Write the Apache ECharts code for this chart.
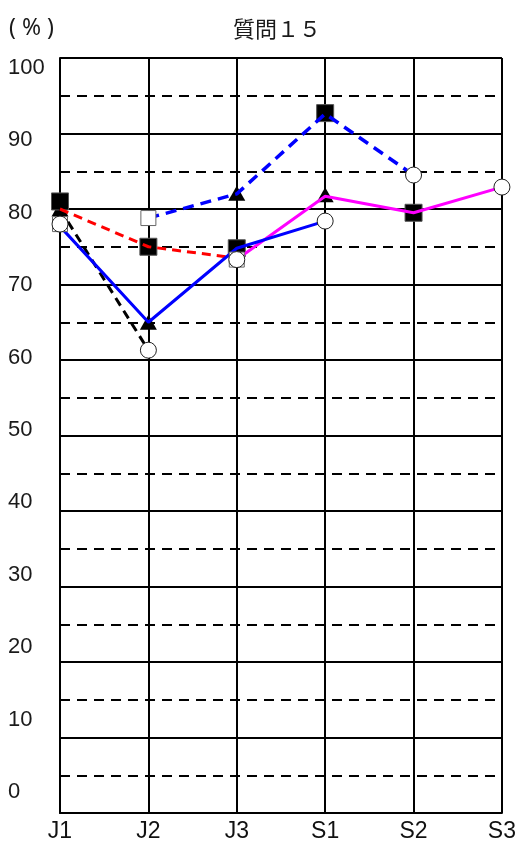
<!DOCTYPE html>
<html>
<head>
<meta charset="utf-8">
<script src="https://cdn.jsdelivr.net/npm/echarts@6/dist/echarts.min.js"></script>
<style>
html,body{margin:0;padding:0;background:#fff;}
#chart{width:519px;height:855px;}
</style>
</head>
<body>
<div id="chart"></div>
<script>
// ---- data ----
const categories = ['J1', 'J2', 'J3', 'S1', 'S2', 'S3'];
const titleText = '質問１５';
const unitText = '( % )';

// lines (no markers)
const blackDashed  = [80, 61.3, '-', '-', '-', '-'];
const redDashed    = [80, 75, 73.5, '-', '-', '-'];
const blueSolid    = [77.7, 65, 74.8, 78.4, '-', '-'];
const blueDashed   = ['-', 78.8, 82, 92.6, 84.5, '-'];
const magentaSolid = ['-', '-', 73.3, 81.7, 79.5, 82.9];

// markers
const filledSquare   = [81, 75, 74.8, 92.7, 79.5, '-'];
const filledTriangle = [80, 65, 82.1, 81.9, '-', '-'];
const openSquare     = [78, 78.8, 73.3, '-', '-', '-'];
const openCircle     = [78, 61.3, 73.3, 78.4, 84.5, 82.9];

const yMin = 0, yMax = 100, yStep = 10;

// ---- chart ----
const chart = echarts.init(document.getElementById('chart'), null, {renderer: 'canvas'});

function lineSeries(data, color, type, width, dash) {
  return {
    type: 'line', data: data, xAxisIndex: 0, yAxisIndex: 0,
    showSymbol: false, symbol: 'none', clip: false, z: 3,
    lineStyle: {color: color, width: width, type: dash ? dash : type},
    connectNulls: false, animation: false
  };
}
function markerSeries(data, symbol, size, fill, border, bw, z) {
  return {
    type: 'scatter', data: data, xAxisIndex: 0, yAxisIndex: 0,
    symbol: symbol, symbolSize: size, clip: false, z: z,
    itemStyle: {color: fill, borderColor: border, borderWidth: bw, opacity: 1},
    animation: false
  };
}

const option = {
  animation: false,
  backgroundColor: '#fff',
  title: [
    {text: titleText, left: 272, top: 13, textAlign: 'center',
     textStyle: {fontFamily: '"Noto Sans CJK JP"', fontSize: 22, fontWeight: 'normal', color: '#1a1a1a'}},
    {text: unitText, left: 4, top: 12,
     textStyle: {fontFamily: '"Noto Sans", "Liberation Sans"', fontSize: 23, fontWeight: 'normal', color: '#1a1a1a'}}
  ],
  grid: [
    {left: 60, right: 11, top: 58, bottom: 42, containLabel: false},
    {left: 60, right: 11, top: 68, bottom: 63, containLabel: false}
  ],
  xAxis: [
    {
      type: 'category', gridIndex: 0, data: categories, boundaryGap: false,
      axisLine: {show: true, lineStyle: {color: '#000', width: 2}},
      axisTick: {show: false},
      axisLabel: {show: true, margin: 7, fontSize: 23, color: '#111',
                  fontFamily: '"Liberation Sans Narrow", "Liberation Sans", Arial'},
      splitLine: {show: true, lineStyle: {color: '#000', width: 2, type: 'solid'}}
    },
    {type: 'value', gridIndex: 1, show: false, min: 0, max: 1}
  ],
  yAxis: [
    {
      type: 'value', gridIndex: 0, min: yMin, max: yMax, interval: yStep,
      axisLine: {show: true, lineStyle: {color: '#000', width: 2}},
      axisTick: {show: false},
      axisLabel: {show: false},
      splitLine: {show: true, lineStyle: {color: '#000', width: 2, type: 'solid'}},
      minorTick: {show: false, splitNumber: 2},
      minorSplitLine: {show: true, lineStyle: {color: '#000', width: 2, type: [10, 7]}}
    },
    {
      type: 'value', gridIndex: 1, min: yMin, max: yMax, interval: yStep,
      axisLine: {show: false}, axisTick: {show: false}, splitLine: {show: false},
      axisLabel: {show: true, align: 'left', margin: 52, fontSize: 22, color: '#1a1a1a',
                  fontFamily: '"Liberation Sans", Arial'}
    }
  ],
  series: [
    // filled markers under lines
    markerSeries(filledTriangle, 'triangle', [17, 15], '#000', '#000', 0, 1),
    markerSeries(filledSquare, 'rect', 17, '#000', '#555', 1, 2),
    // lines
    lineSeries(blackDashed, '#000', 'dashed', 3, [9, 6]),
    lineSeries(redDashed, '#ff0000', 'dashed', 3, [9, 6]),
    lineSeries(blueDashed, '#0000ff', 'dashed', 3.5, [11, 7]),
    lineSeries(magentaSolid, '#ff00ff', 'solid', 3),
    lineSeries(blueSolid, '#0000ff', 'solid', 3),
    // open markers over lines
    markerSeries(openSquare, 'rect', 15, '#fff', '#666', 1, 4),
    markerSeries(openCircle, 'circle', 16, '#fff', '#222', 1, 5)
  ]
};
chart.setOption(option);
</script>
</body>
</html>
